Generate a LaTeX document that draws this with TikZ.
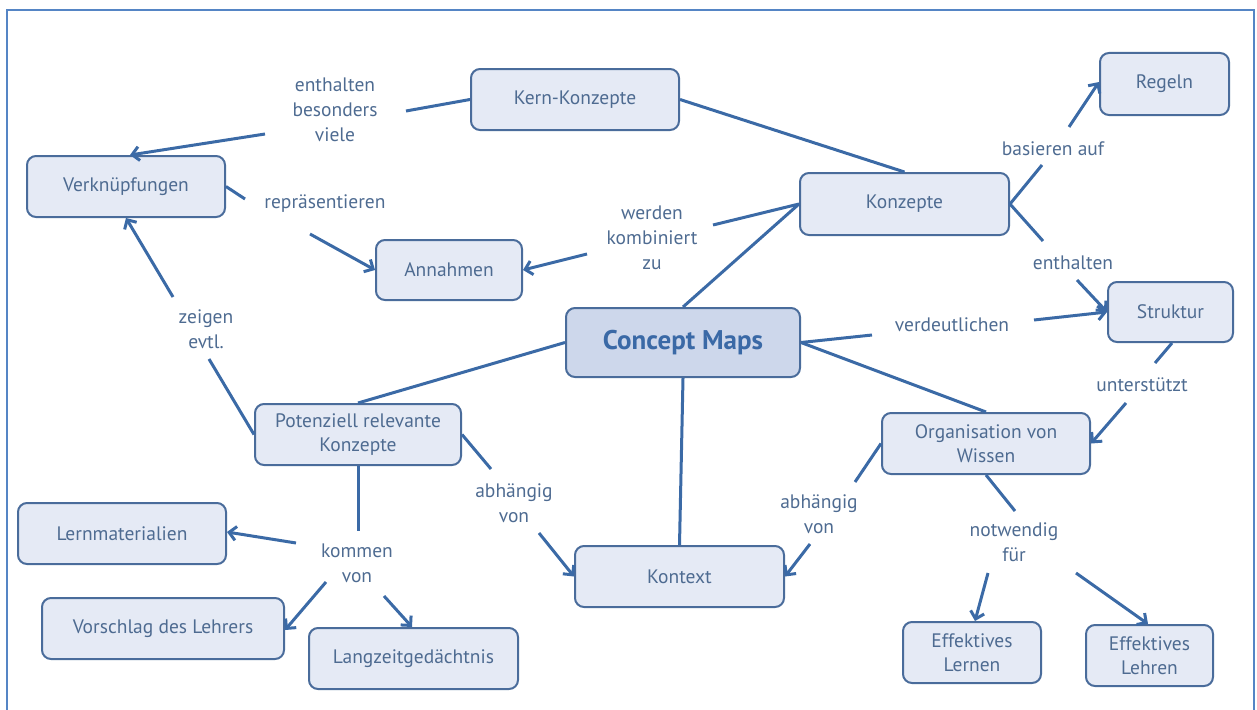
\documentclass[tikz,border=0pt]{standalone}
\usepackage{fontspec}
\setmainfont{PT Sans}
\usetikzlibrary{arrows.meta}
\definecolor{txt}{HTML}{4E6B91}
\definecolor{conline}{HTML}{3B6AA6}
\definecolor{boxline}{HTML}{4A6C9B}
\definecolor{boxfill}{HTML}{E5EAF5}
\definecolor{cmfill}{HTML}{CDD7EB}
\definecolor{cmtext}{HTML}{3A69A6}
\definecolor{framecol}{HTML}{5585C5}
\begin{document}
\begin{tikzpicture}[x=1pt,y=-1pt,
  box/.style={draw=boxline, line width=2pt, fill=boxfill, rounded corners=9pt, text=txt,
    font=\fontsize{19.5}{24}\selectfont, align=center, inner sep=0pt, minimum height=61pt},
  lbl/.style={text=txt, font=\fontsize{19.5}{25}\selectfont, align=center, inner sep=0pt},
  con/.style={draw=conline, line width=3pt},
  arr/.style={con, -{Straight Barb[length=7pt,width=14pt]}}]
\useasboundingbox (0,0) rectangle (1257,709);
\draw[framecol, line width=2.2pt] (7,10) rectangle (1254,730);

% concept boxes
\node[box, minimum width=208pt] (kern) at (575,99.5) {Kern-Konzepte};
\node[box, minimum width=198pt] (verk) at (126,186.5) {Verknüpfungen};
\node[box, minimum width=146pt, minimum height=60pt] (annahmen) at (449,270) {Annahmen};
\node[box, minimum width=209pt, minimum height=62pt] (konzepte) at (904.5,204) {Konzepte};
\node[box, minimum width=129pt, minimum height=62pt] (regeln) at (1164.5,84) {Regeln};
\node[box, minimum width=125pt, minimum height=60pt] (struktur) at (1170.5,312) {Struktur};
\node[box, minimum width=234pt, minimum height=69pt, fill=cmfill, text=cmtext,
  font=\fontsize{27}{32}\selectfont\bfseries] (cm) at (683,342.5) {Concept Maps};
\node[box, minimum width=208pt] (org) at (986,443.5) {Organisation von\\Wissen};
\node[box, minimum width=206pt] (pot) at (358,434.5) {Potenziell relevante\\Konzepte};
\node[box, minimum width=208pt] (lern) at (122,533.5) {Lernmaterialien};
\node[box, minimum width=242pt] (vor) at (163,628.5) {Vorschlag des Lehrers};
\node[box, minimum width=209pt] (lang) at (413.5,658.5) {Langzeitgedächtnis};
\node[box, minimum width=209pt] (kontext) at (679.5,576.5) {Kontext};
\node[box, minimum width=138pt] (el) at (972,652.5) {Effektives\\Lernen};
\node[box, minimum width=127pt] (elh) at (1149.5,655.5) {Effektives\\Lehren};

% link labels
\node[lbl] (lebv) at (335,110) {enthalten\\besonders\\viele};
\node[lbl] (lrep) at (325,204) {repräsentieren};
\node[lbl] (lwkz) at (652,238) {werden\\kombiniert\\zu};
\node[lbl] (lbas) at (1053,149) {basieren auf};
\node[lbl] (lenth) at (1073,263) {enthalten};
\node[lbl] (lverd) at (952,325) {verdeutlichen};
\node[lbl] (lunt) at (1142,385) {unterstützt};
\node[lbl] (lnot) at (1014,542) {notwendig\\für};
\node[lbl] (lzeig) at (206,329) {zeigen\\evtl.};
\node[lbl] (labh1) at (514,503) {abhängig\\von};
\node[lbl] (lkom) at (357,563) {kommen\\von};
\node[lbl] (labh2) at (819,514) {abhängig\\von};

% free ends of connectors
\coordinate (a1) at (406,111);
\coordinate (a2) at (265,134);
\coordinate (b1) at (245,199);
\coordinate (b2) at (310,234);
\coordinate (c1) at (713,225);
\coordinate (c2) at (587,254);
\coordinate (d1) at (1042,165);
\coordinate (d2) at (1069,127);
\coordinate (e1) at (1043,241);
\coordinate (e2) at (1077,280);
\coordinate (f1) at (872,335);
\coordinate (f2) at (1034,320);
\coordinate (g1) at (1155,363);
\coordinate (g2) at (1126,403);
\coordinate (h1) at (855,482);
\coordinate (h2) at (810,544);
\coordinate (i1) at (1015,511);
\coordinate (i2) at (988,573);
\coordinate (i3) at (1076,573);
\coordinate (j1) at (209,359);
\coordinate (j2) at (173,297);
\coordinate (k1) at (491,469);
\coordinate (k2) at (539,533);
\coordinate (m1) at (358,531);
\coordinate (m2) at (296,543);
\coordinate (m3) at (326,582);
\coordinate (m4) at (384,596);

% connectors
\draw[con] (kern.west) -- (a1);
\draw[arr] (a2) -- ([xshift=4pt]verk.north);
\draw[con] (verk.east) -- (b1);
\draw[arr] (b2) -- (annahmen.west);
\draw[con] (konzepte.west) -- (c1);
\draw[arr] (c2) -- (annahmen.east);
\draw[con] (kern.east) -- (konzepte.north);
\draw[con] (cm.north) -- (konzepte.west);
\draw[con] (konzepte.east) -- (d1);
\draw[arr] (d2) -- ([yshift=2pt]regeln.west);
\draw[con] (konzepte.east) -- (e1);
\draw[arr] (e2) -- (struktur.west);
\draw[con] (cm.east) -- (f1);
\draw[arr] (f2) -- (struktur.west);
\draw[con] (cm.east) -- (org.north);
\draw[con] ([xshift=1.5pt]struktur.south) -- (g1);
\draw[arr] (g2) -- (org.east);
\draw[con] (org.west) -- (h1);
\draw[arr] (h2) -- (kontext.east);
\draw[con] (org.south) -- (i1);
\draw[arr] (i2) -- ([xshift=3pt]el.north);
\draw[arr] (i3) -- ([xshift=-1.5pt]elh.north);
\draw[con] (cm.south) -- (kontext.north);
\draw[con] (cm.west) -- (pot.north);
\draw[con] (pot.west) -- (j1);
\draw[arr] (j2) -- (verk.south);
\draw[con] (pot.east) -- (k1);
\draw[arr] (k2) -- (kontext.west);
\draw[con] (pot.south) -- (m1);
\draw[arr] (m2) -- ([yshift=1.5pt]lern.east);
\draw[arr] (m3) -- ([yshift=-1.5pt]vor.east);
\draw[arr] (m4) -- ([xshift=-1.5pt]lang.north);
\end{tikzpicture}
\end{document}
